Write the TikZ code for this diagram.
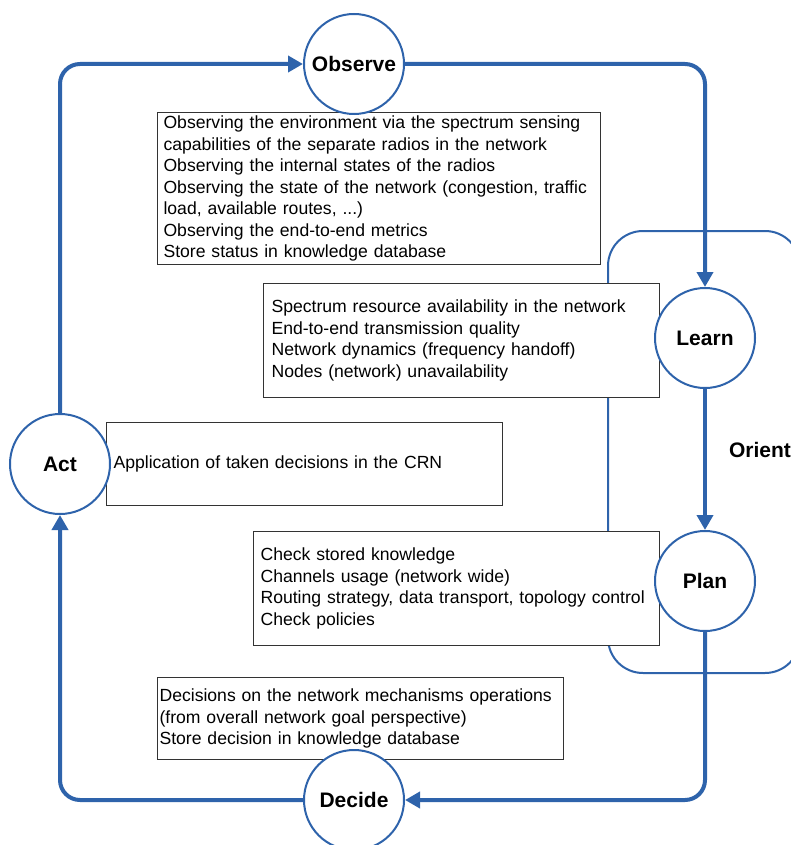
\documentclass[tikz,border=0pt]{standalone}
\usepackage{fontspec}
\setmainfont{Liberation Sans}
\usetikzlibrary{arrows.meta}
\definecolor{loopblue}{RGB}{46,99,171}
\begin{document}
\hyphenpenalty=10000
\begin{tikzpicture}[x=1pt,y=-1pt,
  stage/.style={circle, draw=loopblue, line width=2pt, fill=white,
    minimum size=100pt, inner sep=0pt,
    font=\fontsize{21}{25}\selectfont\bfseries},
  infobox/.style={draw=black!80, line width=1.1pt, fill=white,
    anchor=north west, align=left, inner ysep=0pt, inner xsep=7pt,
    font=\fontsize{17.6}{21.5}\selectfont},
  flow/.style={draw=loopblue, line width=4pt, rounded corners=20pt,
    -{Triangle[length=15pt,width=16pt]}},
  orientline/.style={draw=loopblue, line width=2pt, rounded corners=35pt},
]
\useasboundingbox (0,0) rectangle (791,845);

% Orient frame around Learn and Plan
\draw[orientline] (608,231) rectangle (800,673);

% description boxes
\node[infobox, minimum width=443pt, minimum height=152pt, text width=431pt, inner xsep=6pt]
  (obsbox) at (157,112) {Observing the environment via the spectrum sensing\\
  capabilities of the separate radios in the network\\
  Observing the internal states of the radios\\
  Observing the state of the network (congestion, traffic\\
  load, available routes, ...)\\
  Observing the end-to-end metrics\\
  Store status in knowledge database};
\node[infobox, minimum width=396pt, minimum height=114pt, text width=380pt, inner xsep=8pt]
  (learnbox) at (263,283) {Spectrum resource availability in the network\\
  End-to-end transmission quality\\
  Network dynamics (frequency handoff)\\
  Nodes (network) unavailability};
\node[infobox, minimum width=396pt, minimum height=83pt, text width=382pt]
  (actbox) at (106,422) {Application of taken decisions in the CRN};
\node[infobox, minimum width=406pt, minimum height=114pt, text width=392pt]
  (planbox) at (253,531) {Check stored knowledge\\
  Channels usage (network wide)\\
  Routing strategy, data transport, topology control\\
  Check policies};
\node[infobox, minimum width=406pt, minimum height=82pt, text width=402pt, inner xsep=2pt]
  (decbox) at (157,677) {Decisions on the network mechanisms operations\\
  (from overall network goal perspective)\\
  Store decision in knowledge database};

% cycle stages
\node[stage] (observe) at (354,64) {Observe};
\node[stage] (learn) at (705,338) {Learn};
\node[stage] (plan) at (705,581) {Plan};
\node[stage] (decide) at (354,800) {Decide};
\node[stage] (act) at (60,464) {Act};

% cycle arrows
\draw[flow] (observe.east) -| (learn.north);
\draw[flow] (learn.south) -- (plan.north);
\draw[flow] (plan.south) |- (decide.east);
\draw[flow] (decide.west) -| (act.south);
\draw[flow] (act.north) |- (observe.west);

\node[font=\fontsize{21}{25}\selectfont\bfseries] (orientlbl) at (760,450) {Orient};
\end{tikzpicture}
\end{document}
